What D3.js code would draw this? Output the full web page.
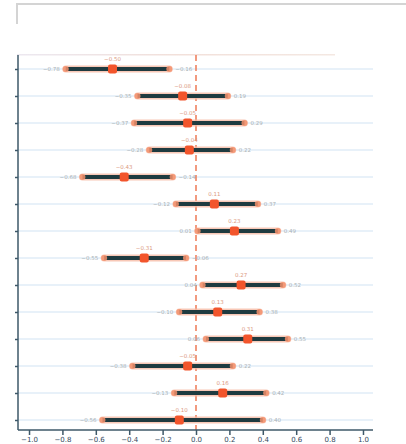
<!DOCTYPE html>
<html>
<head>
<meta charset="utf-8">
<script src="https://cdn.jsdelivr.net/npm/d3@7"></script>
<style>
  html, body { margin: 0; padding: 0; background: #fff; }
  svg { display: block; }
</style>
</head>
<body>
<svg id="chart" width="406" height="444"></svg>
<script>
const categories = ["R1","R2","R3","R4","R5","R6","R7","R8","R9","R10","R11","R12","R13","R14"];
const estimates  = [-0.50,-0.08,-0.05,-0.04,-0.43, 0.11, 0.23,-0.31, 0.27, 0.13, 0.31,-0.05, 0.16,-0.10];
const lowerCI    = [-0.78,-0.35,-0.37,-0.28,-0.68,-0.12, 0.01,-0.55, 0.04,-0.10, 0.06,-0.38,-0.13,-0.56];
const upperCI    = [-0.16, 0.19, 0.29, 0.22,-0.14, 0.37, 0.49,-0.06, 0.52, 0.38, 0.55, 0.22, 0.42, 0.40];
const xTicks     = [-1.0,-0.8,-0.6,-0.4,-0.2,0,0.2,0.4,0.6,0.8,1.0];

(function () {
const svg = d3.select("#chart");
const mLeft = 18, mRight = 373, mTop = 55, mBottom = 430;

const x = d3.scaleLinear().domain([-1.066, 1.06]).range([mLeft, mRight]);
const y = d3.scalePoint().domain(categories).range([69, 420]);

// top container border
svg.append("path").attr("d", `M17,24 V4 H406`).attr("fill","none")
  .attr("stroke","#d4d4d4").attr("stroke-width",2);

// faint strip (bottom edge of a hidden header)
const grad = svg.append("defs").append("linearGradient").attr("id","strip");
grad.append("stop").attr("offset","0%").attr("stop-color","#ece8f0");
grad.append("stop").attr("offset","50%").attr("stop-color","#f2e0da");
grad.append("stop").attr("offset","100%").attr("stop-color","#f4e8e2");
svg.append("rect").attr("x",17).attr("y",54).attr("width",318).attr("height",1.5)
  .attr("fill","url(#strip)");

// grid lines
svg.append("g").selectAll("line").data(categories).join("line")
  .attr("x1", mLeft).attr("x2", mRight)
  .attr("y1", d => y(d)).attr("y2", d => y(d))
  .attr("stroke", "#e1edf7").attr("stroke-width", 1.5);

// zero line
svg.append("line").attr("x1", x(0)).attr("x2", x(0)).attr("y1", mTop).attr("y2", mBottom)
  .attr("stroke", "#ee7a55").attr("stroke-width", 1.5).attr("stroke-dasharray","6,4");

const rows = categories.map((c,i) => ({c, est: estimates[i], lo: lowerCI[i], hi: upperCI[i]}));
const g = svg.append("g").selectAll("g").data(rows).join("g");

// halo
g.append("line").attr("x1", d => x(d.lo)).attr("x2", d => x(d.hi))
  .attr("y1", d => y(d.c)).attr("y2", d => y(d.c))
  .attr("stroke", "#f7bba6").attr("stroke-width", 7).attr("stroke-linecap","round").attr("opacity",0.8);
// CI
g.append("line").attr("x1", d => x(d.lo)).attr("x2", d => x(d.hi))
  .attr("y1", d => y(d.c)).attr("y2", d => y(d.c))
  .attr("stroke", "#1f3b40").attr("stroke-width", 4);
// caps
g.append("circle").attr("cx", d => x(d.lo)).attr("cy", d => y(d.c)).attr("r", 3)
  .attr("fill","#f3906c").attr("opacity",0.85);
g.append("circle").attr("cx", d => x(d.hi)).attr("cy", d => y(d.c)).attr("r", 3)
  .attr("fill","#f3906c").attr("opacity",0.85);
// point
g.append("rect").attr("x", d => x(d.est)-4.5).attr("y", d => y(d.c)-4.5)
  .attr("width",9).attr("height",9).attr("rx",2)
  .attr("fill","#f2552c");

const fmt = d3.format(".2f");
g.append("text").attr("x", d => x(d.lo)-6).attr("y", d => y(d.c)+2.2)
  .attr("text-anchor","end").attr("font-family","DejaVu Sans").attr("font-size",5.5)
  .attr("fill","#aab1b6").text(d => fmt(d.lo));
g.append("text").attr("x", d => x(d.hi)+6).attr("y", d => y(d.c)+2.2)
  .attr("text-anchor","start").attr("font-family","DejaVu Sans").attr("font-size",5.5)
  .attr("fill","#aab1b6").text(d => fmt(d.hi));
g.append("text").attr("x", d => x(d.est)).attr("y", d => y(d.c)-8)
  .attr("text-anchor","middle").attr("font-family","DejaVu Sans").attr("font-size",5.5)
  .attr("fill","#dc9a82").text(d => fmt(d.est));

// axes
const yAxis = svg.append("g").attr("transform",`translate(${mLeft},0)`)
  .call(d3.axisLeft(y).tickSize(3).tickFormat(""));
yAxis.select(".domain").attr("d", `M0,${mTop}V${mBottom}`);
const xAxis = svg.append("g").attr("transform",`translate(0,${mBottom})`)
  .call(d3.axisBottom(x).tickValues(xTicks).tickSize(5).tickPadding(2).tickFormat(d3.format(".1f")));
xAxis.select(".domain").attr("d", `M${mLeft},0H${mRight}`);
svg.selectAll(".domain").attr("stroke","#3e5868").attr("stroke-width",1.5);
svg.selectAll(".tick line").attr("stroke","#3e5868").attr("stroke-width",1.5);
xAxis.selectAll("text").attr("font-family","DejaVu Sans").attr("font-size",7)
  .attr("fill","#34495e");
})();
</script>
</body>
</html>
